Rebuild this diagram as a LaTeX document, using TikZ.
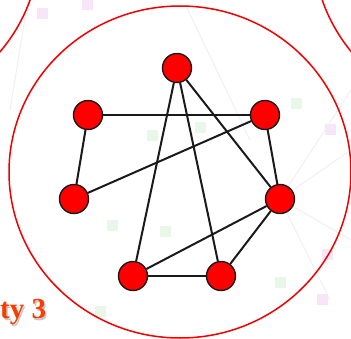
\documentclass[tikz,border=0pt]{standalone}
\usepackage{fontspec}
\setmainfont{Liberation Serif}
\usetikzlibrary{positioning}
\definecolor{commred}{HTML}{FF0000}
\definecolor{ringred}{HTML}{F20000}
\definecolor{labelred}{HTML}{FA3C00}
\definecolor{edgeink}{HTML}{1A1A1A}
\definecolor{faintgreen}{HTML}{E8F7E8}
\definecolor{faintpink}{HTML}{F6E6F8}
\tikzset{
  member/.style={circle, draw=edgeink, fill=commred, line width=1.4pt,
                 minimum size=29pt, inner sep=0pt},
  tie/.style={draw=edgeink, line width=2pt},
  ring/.style={draw=ringred, line width=1.5pt},
  backtie/.style={draw=gray!12, line width=1pt},
  speck/.style={rectangle, minimum size=11pt, inner sep=0pt},
  commlbl/.style={font=\fontsize{29}{30}\selectfont\bfseries, inner sep=0pt, anchor=base west}
}

\begin{document}
\begin{tikzpicture}[x=1pt, y=-1pt]
 \useasboundingbox (0,0) rectangle (351,339);
 \clip (0,0) rectangle (351,339);
 \fill[white] (0,0) rectangle (351,339);
 % faint background
 \draw[backtie] (187,8) -- (250,140);
 \draw[backtie] (28,0) -- (10,110);
 \draw[backtie] (351,90) -- (280,199);
 \draw[backtie] (351,150) -- (280,199) -- (351,240);
 \draw[backtie] (280,199) -- (330,300);
 \node[speck, fill=faintpink] (s1) at (42,14) {};
 \node[speck, fill=faintpink] (s2) at (87,5) {};
 \node[speck, fill=faintgreen] (s3) at (152,136) {};
 \node[speck, fill=faintgreen] (s4) at (200,128) {};
 \node[speck, fill=faintgreen] (s5) at (112,226) {};
 \node[speck, fill=faintgreen] (s6) at (165,232) {};
 \node[speck, fill=faintgreen] (s7) at (296,104) {};
 \node[speck, fill=faintpink] (s8) at (330,130) {};
 \node[speck, fill=faintpink] (s9) at (327,255) {};
 \node[speck, fill=faintgreen] (s10) at (280,283) {};
 \node[speck, fill=faintpink] (s11) at (322,300) {};
 \node[speck, fill=faintgreen] (s12) at (100,312) {};
 % community rings
 \draw[ring] (180,172) ellipse [x radius=171, y radius=166];
 \draw[ring] (-128,-57) circle [radius=168];
 \draw[ring] (481,-55) circle [radius=168];
 % members
 \node[member] (a) at (177,68) {};
 \node[member] (b) at (88,115) {};
 \node[member] (c) at (265,115) {};
 \node[member] (d) at (74,199) {};
 \node[member] (e) at (280,199) {};
 \node[member] (f) at (133,276) {};
 \node[member] (g) at (221,276) {};
 \draw[tie] (b) -- (c);
 \draw[tie] (b) -- (d);
 \draw[tie] (d) -- (c);
 \draw[tie] (a) -- (f);
 \draw[tie] (a) -- (g);
 \draw[tie] (a) -- (e);
 \draw[tie] (c) -- (e);
 \draw[tie] (e) -- (f);
 \draw[tie] (e) -- (g);
 \draw[tie] (f) -- (g);
 % label
 \node[commlbl, text=gray!45] (lblshadow) at (1.5,320.5) {ty 3};
 \node[commlbl, text=labelred] (lbl) at (0,319) {ty 3};
\end{tikzpicture}
\end{document}
